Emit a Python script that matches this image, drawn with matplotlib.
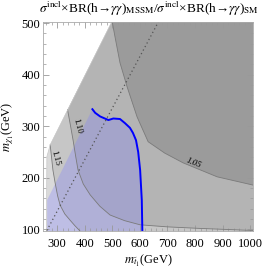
import matplotlib
matplotlib.use('Agg')
import matplotlib.pyplot as plt
from matplotlib.ticker import MultipleLocator

plt.rcParams['font.family'] = ['Liberation Serif', 'DejaVu Serif']
plt.rcParams['mathtext.fontset'] = 'stix'

# outer boundary of the allowed (gray) region
edge_x = [498, 275, 263, 262, 262]
edge_y = [502, 264, 241, 157, 97]

# ratio contours
c115_x = [275, 285, 293, 302, 311, 328, 347, 365, 383]
c115_y = [264, 215, 190, 165, 147, 130, 118, 107, 97]
c110_x = [338, 349, 358, 367, 376, 395, 420, 455, 492, 545, 601, 700, 818, 1010]
c110_y = [332, 300, 273, 243, 215, 188, 167, 145, 128, 117, 109, 105, 102, 98]
c105_x = [500, 510, 528, 554, 590, 630, 690, 757, 880, 1010]
c105_y = [502, 473, 423, 376, 318, 270, 248, 229, 202, 186]

# exclusion curve (blue) and the shaded region left of it
line_x = [428, 438, 456, 486, 504, 528, 546, 564, 575, 586, 594, 601, 607, 609]
line_y = [333, 326, 319, 312, 315, 314, 306, 297, 287, 273, 250, 215, 157, 97]
blue_edge_x = [264, 264]
blue_edge_y = [157, 97]

# m_chi = m_stop - m_top like diagonal
diag_x = [263, 667]
diag_off = 165

xmin, xmax = 249, 1010
ymin, ymax = 97, 502

fig = plt.figure(figsize=(2.66, 2.70), dpi=100)
ax = fig.add_axes([43/266, 1-231/270, 210/266, 209/270])

def region(bx, by, col):
    px = list(bx) + [xmax, xmax]
    py = list(by) + [ymin, ymax]
    ax.fill(px, py, color=col, lw=0)

region(edge_x, edge_y, '#dadada')
region([edge_x[0]] + c115_x, [edge_y[0]] + c115_y, '#c6c6c6')
region([edge_x[0]] + c110_x, [edge_y[0]] + c110_y, '#b4b4b4')
region(c105_x, c105_y, '#9b9b9b')

for cx, cy in [(c115_x, c115_y), (c110_x, c110_y), (c105_x, c105_y)]:
    ax.plot(cx, cy, color='#7a7a7a', lw=0.6)
ax.plot(edge_x, edge_y, color='#c8c8c8', lw=0.5)

bx = [line_x[0]] + blue_edge_x + line_x[::-1]
by = [line_y[0]] + blue_edge_y + line_y[::-1]
ax.fill(bx, by, color='#7f7fff', alpha=0.3, lw=0)

ax.plot(diag_x, [v - diag_off for v in diag_x], color='#555555', lw=0.9,
        ls=(0, (1, 2.2)))
ax.plot(line_x, line_y, color='#0000ff', lw=1.4)

ax.text(796, 229, '1.05', fontsize=6.5, rotation=-22, ha='center', va='center',
        style='italic')
ax.text(372, 300, '1.10', fontsize=6.5, rotation=-75, ha='center', va='center')
ax.text(293, 239, '1.15', fontsize=6.5, rotation=-75, ha='center', va='center')

ax.set_xlim(xmin, xmax)
ax.set_ylim(ymin, ymax)
ax.xaxis.set_minor_locator(MultipleLocator(20))
ax.yaxis.set_minor_locator(MultipleLocator(20))
ax.set_xticks(range(300, 1001, 100))
ax.set_yticks(range(100, 501, 100))
ax.tick_params(which='both', direction='in', top=True, right=True,
               color='#999999', labelsize=9)
ax.tick_params(axis='x', pad=5)
ax.tick_params(axis='y', pad=2)
ax.tick_params(which='major', length=4, width=0.6)
ax.tick_params(which='minor', length=2, width=0.5)
for s in ax.spines.values():
    s.set_color('#aaaaaa')
    s.set_linewidth(0.6)

ax.set_xlabel(r'$m_{\tilde{t}_1}$(GeV)', fontsize=9, labelpad=2)
ax.set_ylabel(r'$m_{\chi_1}$(GeV)', fontsize=9)
ax.yaxis.set_label_coords(-0.13, 0.5)
fig.text(149/266, 1-9/270,
         r'$\sigma^{\rm incl}$×BR(h→$\gamma\gamma$)$_{\rm MSSM}$/$\sigma^{\rm incl}$×BR(h→$\gamma\gamma$)$_{\rm SM}$',
         fontsize=9.5, ha='center', va='center')

fig.savefig('out.png', dpi=100)
